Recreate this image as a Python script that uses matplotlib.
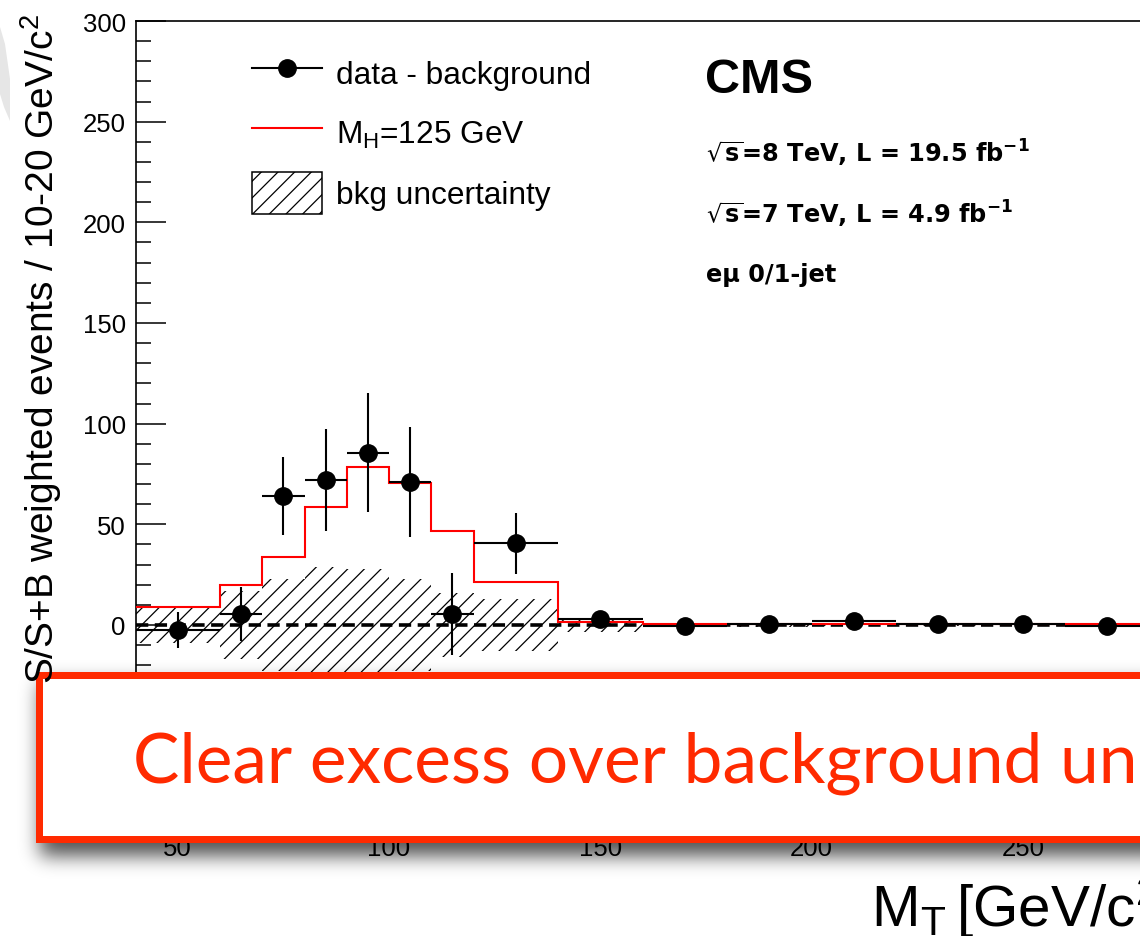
import numpy as np
import matplotlib
matplotlib.use("Agg")
import matplotlib.pyplot as plt
from matplotlib.lines import Line2D
from matplotlib.patches import Patch, Rectangle, Polygon
from matplotlib.ticker import MultipleLocator, FixedLocator

# ---------------------------------------------------------------- data
bin_edges = [40, 60, 70, 80, 90, 100, 110, 120, 140, 160, 180, 200, 220, 240, 260, 280]
data_minus_bkg = [-2.5, 5.5, 64, 72, 85.5, 71, 5.5, 40.5, 3, -0.5, 0.5, 2, 0.5, 0.5, -0.5]
data_err = [9, 13.5, 19.5, 25.5, 29.5, 27.5, 20.5, 15, 3, 2, 2, 2, 2, 2, 2]
signal_mh125 = [9, 20, 34, 58.5, 78.5, 70.5, 46.7, 21.5, 1.5, 0.3, 0.3, 0.3, 0.3, 0.3, 0.3]
bkg_uncertainty = [9, 17, 23, 29, 28, 23, 16, 13, 3.5, 1, 0.8, 0.6, 0.5, 0.5, 0.5]

x_tick_values = [50, 100, 150, 200, 250]
legend_labels = ["data - background", "M$_{H}$=125 GeV", "bkg uncertainty"]
info_lines = ["$\\sqrt{s}$=8 TeV, L = 19.5 fb$^{-1}$",
              "$\\sqrt{s}$=7 TeV, L = 4.9 fb$^{-1}$",
              "e\u03bc 0/1-jet"]
y_title = "S/S+B weighted events / 10-20 GeV/c$^{2}$"
x_title = "M$_{T}$$\\,$[GeV/c$^{2}$]"
banner_text = "Clear excess over background uncertainty"

# ---------------------------------------------------------------- style
plt.rcParams["font.family"] = ["Liberation Sans", "DejaVu Sans"]
plt.rcParams["mathtext.default"] = "regular"
plt.rcParams["hatch.linewidth"] = 0.9

W, H = 1140, 937
fig = plt.figure(figsize=(W / 100, H / 100), dpi=100)
fig.patch.set_facecolor("white")

def fx(px):
    return px / W

def fy(py):
    return 1 - py / H

# main frame (extends past the right border of the canvas)
x0, x1 = 135.5, 1234.0
y_top, y_bot = 22.0, 827.3
ax = fig.add_axes([fx(x0), fy(y_bot), (x1 - x0) / W, (y_bot - y_top) / H])
ax.set_xlim(40, 300)
ax.set_ylim(-100, 300)

edges = np.array(bin_edges, dtype=float)
centers = 0.5 * (edges[:-1] + edges[1:])
half_w = 0.5 * np.diff(edges)
unc = np.array(bkg_uncertainty)

# background uncertainty band around zero
ax.stairs(unc, edges, baseline=-unc, fill=True, facecolor="none",
          edgecolor="black", linewidth=0, hatch="//", zorder=1)
# zero line
ax.axhline(0, color="black", lw=2.6, dashes=(3.4, 1.8), zorder=2)
# expected signal
ax.stairs(signal_mh125, edges, baseline=None, color="red", lw=1.5, zorder=3)
# data minus background
ax.errorbar(centers, data_minus_bkg, yerr=data_err, xerr=half_w, fmt="o",
            color="black", ms=12.5, elinewidth=1.5, capsize=0, zorder=4)

ax.yaxis.set_major_locator(MultipleLocator(50))
ax.yaxis.set_minor_locator(MultipleLocator(10))
ax.xaxis.set_major_locator(FixedLocator(x_tick_values))
ax.xaxis.set_minor_locator(MultipleLocator(10))
ax.tick_params(axis="both", which="both", direction="in", width=1.1,
               top=False, right=False, labelsize=18.5, pad=7)
ax.tick_params(axis="both", which="major", length=21.6)
ax.tick_params(axis="both", which="minor", length=10.8)
for s in ax.spines.values():
    s.set_linewidth(1.2)

# legend
handles = [
    Line2D([], [], color="black", marker="o", ms=12.5, lw=1.5),
    Line2D([], [], color="red", lw=1.5),
    Patch(facecolor="white", edgecolor="black", hatch="//", lw=1.1),
]
ax.legend(handles, legend_labels, loc="upper left",
          bbox_to_anchor=(fx(252), fy(53)), bbox_transform=fig.transFigure,
          frameon=False, fontsize=22.8, borderpad=0, borderaxespad=0,
          handlelength=2.21, handleheight=1.66, handletextpad=0.44,
          labelspacing=0.57)

# experiment labels
fig.text(fx(705), fy(93), "CMS", fontsize=35, fontweight="bold",
         ha="left", va="baseline")
for txt, base in zip(info_lines, [163, 224, 282]):
    fig.text(fx(706), fy(base), txt, fontsize=17.3, fontweight="bold",
             family=["DejaVu Sans"], ha="left", va="baseline")

# axis titles
fig.text(fx(41), fy(14), y_title, rotation=90, fontsize=28,
         ha="center", va="top")
fig.text(fx(871), fy(927), x_title, fontsize=42, ha="left", va="baseline")

# ---------------------------------------------------------------- overlay
ov = fig.add_axes([0, 0, 1, 1])
ov.set_xlim(0, W)
ov.set_ylim(H, 0)
ov.axis("off")
ov.patch.set_visible(False)

# faint background swoosh at the left border
ov.add_patch(Polygon([(0, 28), (5, 45), (10, 80), (10, 122), (4, 108), (0, 95)],
                     closed=True, facecolor="#e6e6e6", edgecolor="none"))

# callout box with soft drop shadow
bx0, by0, by1 = 35, 672, 843
red = "#ff2a00"

def gaussian_blur(a, sigma):
    r = int(3 * sigma)
    k = np.exp(-0.5 * (np.arange(-r, r + 1) / sigma) ** 2)
    k /= k.sum()
    p = np.pad(a, r, mode="edge")
    tmp = sum(k[i] * p[i:i + a.shape[0], :] for i in range(2 * r + 1))
    return sum(k[i] * tmp[:, i:i + a.shape[1]] for i in range(2 * r + 1))

yy = np.arange(H)[:, None]
xx = np.arange(W)[None, :]
mask = ((xx >= bx0 + 5) & (yy >= by0 + 12) & (yy <= by1 + 13)).astype(float)
shadow = gaussian_blur(mask, 9.5)
rgba = np.zeros((H, W, 4))
rgba[..., 3] = 0.68 * shadow
ov.imshow(rgba, extent=(0, W, H, 0), interpolation="bilinear", aspect="auto", zorder=1)

t = 7
ov.add_patch(Rectangle((bx0 + t / 2, by0 + t / 2), 2000, (by1 - by0) - t,
                       facecolor="white", edgecolor=red, lw=t * 0.72, zorder=2))
ov.text(133, 783, banner_text, color=red, fontsize=50, family=["Lato"],
        ha="left", va="baseline", zorder=3)

fig.savefig("out.png", dpi=100)
